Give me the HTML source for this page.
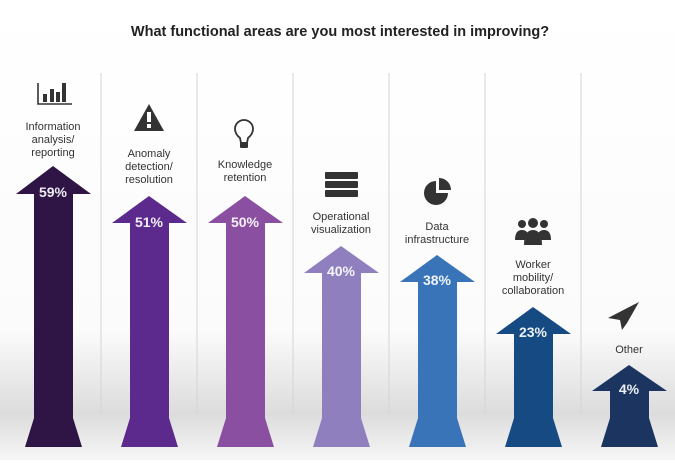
<!DOCTYPE html><html><head><style>
body{margin:0;width:675px;height:460px;overflow:hidden;background:#fff;font-family:"Liberation Sans",sans-serif}
</style></head><body>
<svg width="675" height="460" xmlns="http://www.w3.org/2000/svg" font-family="Liberation Sans, sans-serif">
<defs>
<linearGradient id="bg" x1="0" y1="0" x2="0" y2="1">
<stop offset="0" stop-color="#fff"/><stop offset="0.72" stop-color="#fbfbfb"/><stop offset="0.9" stop-color="#dcdcdc"/><stop offset="1" stop-color="#f6f6f6"/></linearGradient>
</defs>
<rect width="675" height="460" fill="url(#bg)"/>
<text x="340" y="36" text-anchor="middle" font-size="14.5" fill="#222" font-weight="600">What functional areas are you most interested in improving?</text>
<g stroke="#d4d4d4" stroke-width="1">
<line x1="101" y1="73" x2="101" y2="415"/><line x1="197" y1="73" x2="197" y2="415"/><line x1="293" y1="73" x2="293" y2="415"/><line x1="389" y1="73" x2="389" y2="415"/><line x1="485" y1="73" x2="485" y2="415"/><line x1="581" y1="73" x2="581" y2="415"/>
</g>
<g id="arrows">
<path d="M53,166 L91,194 L73,194 L73,418 L82,447 L25,447 L34,418 L34,194 L16,194Z" fill="#2e1546"/>
<path d="M149,196 L187,223 L169,223 L169,418 L178,447 L121,447 L130,418 L130,223 L112,223Z" fill="#5b2a8c"/>
<path d="M245,196 L283,223 L265,223 L265,418 L274,447 L217,447 L226,418 L226,223 L208,223Z" fill="#8a4fa0"/>
<path d="M341,246 L379,273 L361,273 L361,418 L370,447 L313,447 L322,418 L322,273 L304,273Z" fill="#8f7fbf"/>
<path d="M437,255 L475,282 L457,282 L457,418 L466,447 L409,447 L418,418 L418,282 L400,282Z" fill="#3a74b8"/>
<path d="M533,307 L571,334 L553,334 L553,418 L562,447 L505,447 L514,418 L514,334 L496,334Z" fill="#164a82"/>
<path d="M629,365 L667,391 L649,391 L649,418 L658,447 L601,447 L610,418 L610,391 L592,391Z" fill="#1b3560"/>
</g>
<g fill="#fff" font-size="14" text-anchor="middle" font-weight="bold" fill-opacity="0.92">
<text x="53" y="197">59%</text><text x="149" y="227">51%</text><text x="245" y="227">50%</text><text x="341" y="276">40%</text><text x="437" y="285">38%</text><text x="533" y="337">23%</text><text x="629" y="394">4%</text>
</g>
<g fill="#333" font-size="11" text-anchor="middle">
<text x="53" y="130">Information</text><text x="53" y="143">analysis/</text><text x="53" y="156">reporting</text>
<text x="149" y="157">Anomaly</text><text x="149" y="170">detection/</text><text x="149" y="183">resolution</text>
<text x="245" y="168">Knowledge</text><text x="245" y="181">retention</text>
<text x="341" y="220">Operational</text><text x="341" y="233">visualization</text>
<text x="437" y="230">Data</text><text x="437" y="243">infrastructure</text>
<text x="533" y="268">Worker</text><text x="533" y="281">mobility/</text><text x="533" y="294">collaboration</text>
<text x="629" y="353">Other</text>
</g>
<g fill="#333">
<path d="M38,83 V104 H72" stroke="#333" stroke-width="1.6" fill="none"/>
<rect x="43" y="94" width="4" height="8"/><rect x="50" y="89" width="4" height="13"/><rect x="56" y="92" width="4" height="10"/><rect x="62" y="83" width="4" height="19"/>
<path d="M149,104 L164,131 L134,131Z"/><rect x="147" y="112" width="4" height="10" fill="#fff"/><rect x="147" y="124" width="4" height="4" fill="#fff"/>
<path d="M241,143 L240,138 Q235,134 235,129 A9,9 0 0,1 253,129 Q253,134 248,138 L247,143Z" fill="none" stroke="#333" stroke-width="1.8"/><rect x="240" y="142" width="8" height="6" rx="1"/>
<rect x="325" y="172" width="33" height="7" rx="1"/><rect x="325" y="181" width="33" height="7" rx="1"/><rect x="325" y="190" width="33" height="7" rx="1"/>
<path d="M436,181 A12,12 0 1,0 448,193 L436,193Z"/><path d="M439,178 A12,12 0 0,1 451,190 L439,190Z"/>
<circle cx="522" cy="224" r="4"/><circle cx="544" cy="224" r="4"/><circle cx="533" cy="223" r="5"/>
<path d="M515,240 Q515,230 522,230 Q529,230 529,240Z"/><path d="M537,240 Q537,230 544,230 Q551,230 551,240Z"/><path d="M524,245 Q524,230 533,230 Q542,230 542,245Z"/>
<path d="M639,302 L608,318 L620,320 L622,330 L627,323 Z"/>
</g>
</svg>
</body></html>
